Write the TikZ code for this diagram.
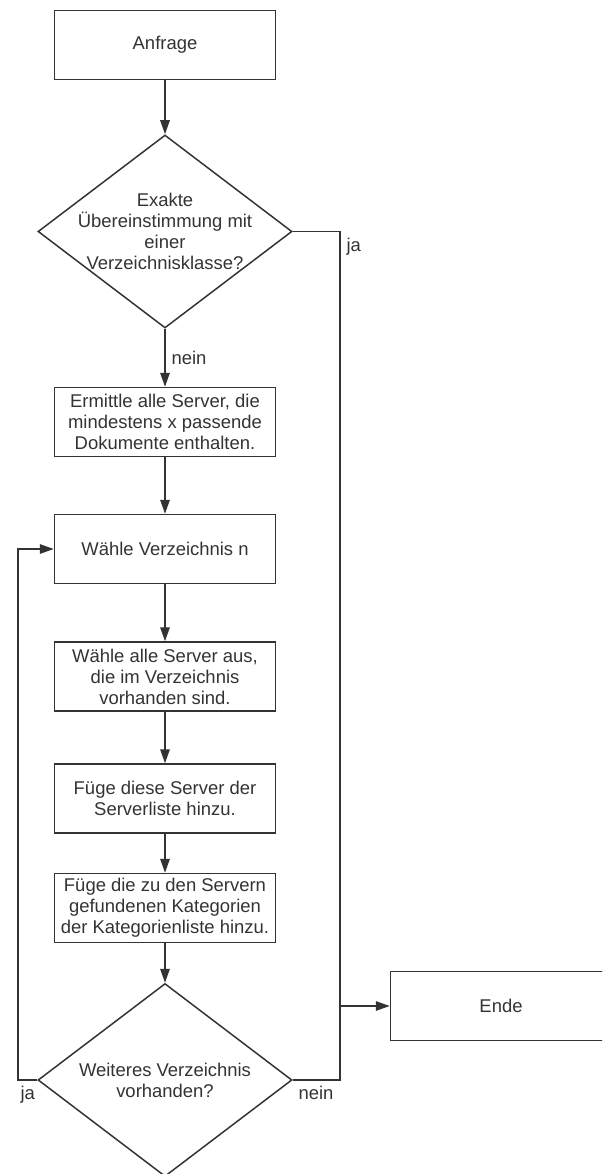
\documentclass[tikz,border=0pt]{standalone}
\usepackage{fontspec}
\setmainfont{Liberation Sans}
\usetikzlibrary{positioning,calc,shapes.geometric,arrows.meta}
\tikzset{
  stepbox/.style={draw, rectangle, minimum width=4.42cm, minimum height=1.38cm, inner ysep=1pt, align=center},
  decision/.style={draw, diamond, aspect=1.316, minimum width=5.08cm, minimum height=3.86cm, inner sep=-3pt, align=center},
  flow/.style={-{Triangle[length=2.8mm,width=1.9mm]}}
}
\newcommand{\bnode}[3]{\node [stepbox] (#1) at (#2) {#3}}
\newcommand{\dnode}[3]{\node [decision] (#1) at (#2) {#3}}

\begin{document}
\begin{tikzpicture}[color=black!80, line width=0.85pt, every node/.style={font=\fontsize{10.5}{12}\selectfont}]

\clip (0,0) rectangle (12.04,-23.48);

\bnode{ANF}{3.3,-0.9}{Anfrage};
\dnode{EXAKT}{3.3,-4.63}{Exakte\\Übereinstimmung mit\\einer\\Verzeichnisklasse?};
\bnode{ERM}{3.3,-8.44}{Ermittle alle Server, die\\mindestens x passende\\Dokumente enthalten.};
\bnode{WVZ}{3.3,-10.98}{Wähle Verzeichnis n};
\bnode{WSRV}{3.3,-13.53}{Wähle alle Server aus,\\die im Verzeichnis\\vorhanden sind.};
\bnode{SLIST}{3.3,-15.97}{Füge diese Server der\\Serverliste hinzu.};
\bnode{KLIST}{3.3,-18.16}{Füge die zu den Servern\\gefundenen Kategorien\\der Kategorienliste hinzu.};
\dnode{WEITER}{3.3,-21.6}{Weiteres Verzeichnis\\vorhanden?};
\bnode{ENDE}{10.02,-20.12}{Ende};

\coordinate (JA) at (6.8,-4.63);
\coordinate (NEIN) at (6.8,-21.6);
\coordinate (LOOP) at (0.36,-21.6);

\draw[flow] (ANF) -- (EXAKT);
\draw[flow] (EXAKT) -- (ERM) node [midway, right] {nein};
\draw[flow] (ERM) -- (WVZ);
\draw[flow] (WVZ) -- (WSRV);
\draw[flow] (WSRV) -- (SLIST);
\draw[flow] (SLIST) -- (KLIST);
\draw[flow] (KLIST) -- (WEITER);
\draw[flow] (EXAKT.east) -- (JA) node [below right] {ja} |- (ENDE);
\draw (WEITER.east) -- (NEIN) node [below left] {nein} -- (NEIN |- ENDE);
\draw[flow] (WEITER.west) -- (LOOP) node [below right, inner xsep=1pt] {ja} |- (WVZ);

\end{tikzpicture}
\end{document}
